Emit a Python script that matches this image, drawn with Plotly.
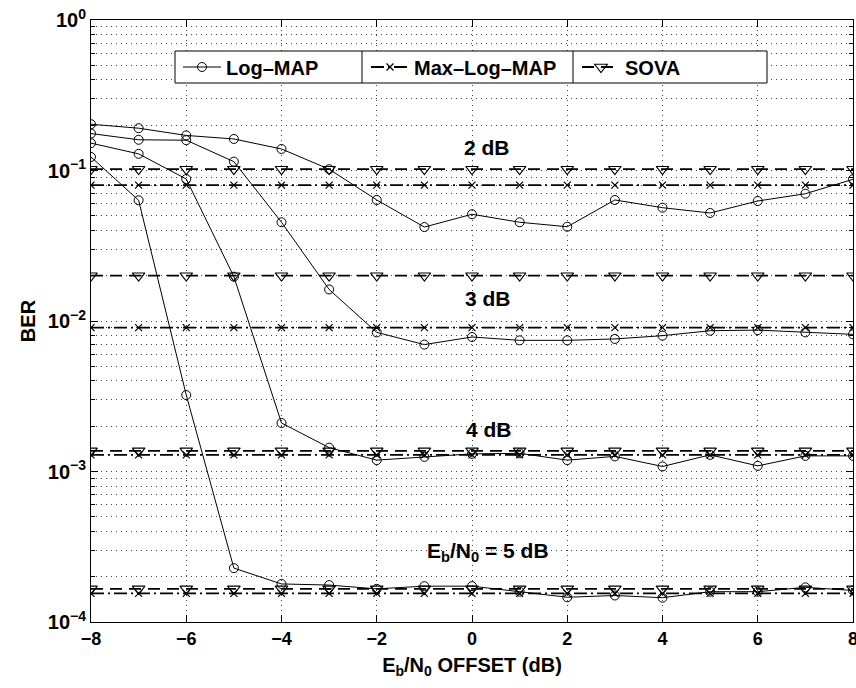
import math
import plotly.graph_objects as go

# ---------------- data ----------------
offset_db = [-8, -7, -6, -5, -4, -3, -2, -1, 0, 1, 2, 3, 4, 5, 6, 7, 8]

logmap_2db = [0.203, 0.191, 0.171, 0.162, 0.139, 0.102, 0.0637, 0.0421, 0.0512, 0.0453,
              0.0423, 0.0637, 0.0566, 0.0522, 0.0627, 0.0701, 0.0874]
logmap_3db = [0.176, 0.160, 0.159, 0.1145, 0.0453, 0.0162, 0.0084, 0.00697, 0.00783, 0.00744,
              0.00744, 0.00760, 0.00799, 0.00862, 0.0087, 0.0084, 0.00815]
logmap_4db = [0.152, 0.129, 0.0878, 0.0197, 0.0021, 0.00144, 0.00119, 0.00125, 0.00131, 0.00132,
              0.00119, 0.00126, 0.00108, 0.00129, 0.00109, 0.00127, 0.00127]
logmap_5db = [0.123, 0.0634, 0.00322, 2.28e-4, 1.79e-4, 1.76e-4, 1.66e-4, 1.73e-4, 1.73e-4, 1.59e-4,
              1.46e-4, 1.50e-4, 1.45e-4, 1.59e-4, 1.59e-4, 1.70e-4, 1.62e-4]

maxlog_2db = [0.080, 0.080, 0.080, 0.080, 0.080, 0.080, 0.080, 0.080, 0.080, 0.080,
              0.080, 0.080, 0.080, 0.080, 0.080, 0.080, 0.080]
maxlog_3db = [0.00903, 0.00903, 0.00903, 0.00903, 0.00903, 0.00903, 0.00903, 0.00903, 0.00903,
              0.00903, 0.00903, 0.00903, 0.00903, 0.00903, 0.00903, 0.00903, 0.00903]
maxlog_4db = [0.00129, 0.00129, 0.00129, 0.00129, 0.00129, 0.00129, 0.00129, 0.00129, 0.00129,
              0.00129, 0.00129, 0.00129, 0.00129, 0.00129, 0.00129, 0.00129, 0.00129]
maxlog_5db = [1.55e-4, 1.55e-4, 1.55e-4, 1.55e-4, 1.55e-4, 1.55e-4, 1.55e-4, 1.55e-4, 1.55e-4,
              1.55e-4, 1.55e-4, 1.55e-4, 1.55e-4, 1.55e-4, 1.55e-4, 1.55e-4, 1.55e-4]

sova_2db = [0.102, 0.102, 0.102, 0.102, 0.102, 0.102, 0.102, 0.102, 0.102, 0.102,
            0.102, 0.102, 0.102, 0.102, 0.102, 0.102, 0.102]
sova_3db = [0.020, 0.020, 0.020, 0.020, 0.020, 0.020, 0.020, 0.020, 0.020, 0.020,
            0.020, 0.020, 0.020, 0.020, 0.020, 0.020, 0.020]
sova_4db = [0.00137, 0.00137, 0.00137, 0.00137, 0.00137, 0.00137, 0.00137, 0.00137, 0.00137,
            0.00137, 0.00137, 0.00137, 0.00137, 0.00137, 0.00137, 0.00137, 0.00137]
sova_5db = [1.66e-4, 1.66e-4, 1.66e-4, 1.66e-4, 1.66e-4, 1.66e-4, 1.66e-4, 1.66e-4, 1.66e-4,
            1.66e-4, 1.66e-4, 1.66e-4, 1.66e-4, 1.66e-4, 1.66e-4, 1.66e-4, 1.66e-4]

x_ticks = [-8, -6, -4, -2, 0, 2, 4, 6, 8]
y_ticks = [1e-4, 1e-3, 1e-2, 1e-1, 1]
y_ticktext = ["<b>10<sup>\u22124</sup></b>", "<b>10<sup>\u22123</sup></b>", "<b>10<sup>\u22122</sup></b>",
              "<b>10<sup>\u22121</sup></b>", "<b>10<sup>0</sup></b>"]

level_labels = ["2 dB", "3 dB", "4 dB", "E<sub>b</sub>/N<sub>0</sub> = 5 dB"]
level_label_x = [-0.21, -0.19, -0.17, -0.99]
level_label_y = [0.143, 0.0142, 0.00189, 2.92e-4]

# ---------------- figure ----------------
FONT = "Liberation Sans, Arial, sans-serif"
fig = go.Figure()

def add(y, name, legend, show, line, marker):
    fig.add_trace(go.Scatter(
        x=offset_db, y=y, mode="lines+markers", name=f"<b>{name}</b>",
        legend=legend, showlegend=show, line=line, marker=marker))

sova_line = dict(color="black", width=1.8, dash="12px,7px")
sova_marker = dict(symbol="triangle-down-open", size=11, color="black", line=dict(width=1.1))
maxlog_line = dict(color="black", width=1.8, dash="13px,4px,2px,4px")
maxlog_marker = dict(symbol="x-thin-open", size=7, color="black", line=dict(width=1.2))
logmap_line = dict(color="black", width=1)
logmap_marker = dict(symbol="circle-open", size=9, color="black", line=dict(width=1))

for i, ys in enumerate([sova_2db, sova_3db, sova_4db, sova_5db]):
    add(ys, "SOVA", "legend3", i == 0, sova_line, sova_marker)
for i, ys in enumerate([maxlog_2db, maxlog_3db, maxlog_4db, maxlog_5db]):
    add(ys, "Max\u2013Log\u2013MAP", "legend2", i == 0, maxlog_line, maxlog_marker)
for i, ys in enumerate([logmap_2db, logmap_3db, logmap_4db, logmap_5db]):
    add(ys, "Log\u2013MAP", "legend", i == 0, logmap_line, logmap_marker)

# plot area in pixels: x 91..853, y 20..622
L, R, T, B = 91, 853, 20, 622
def px(p):
    return (p - L) / (R - L)
def py(q):
    return (B - q) / (B - T)

leg_font = dict(family=FONT, size=20, color="black")
leg_common = dict(bgcolor="rgba(0,0,0,0)", borderwidth=0, font=leg_font,
                  yanchor="middle", xanchor="left", itemwidth=38, orientation="h")
box_top, box_bot = 51, 83
ymid = py((box_top + box_bot) / 2)

fig.add_shape(type="rect", xref="paper", yref="paper", x0=px(175), x1=px(767),
              y0=py(box_bot), y1=py(box_top), line=dict(color="black", width=1),
              fillcolor="white", layer="above")
for d in [362, 573]:
    fig.add_shape(type="line", xref="paper", yref="paper", x0=px(d), x1=px(d),
                  y0=py(box_bot), y1=py(box_top), line=dict(color="black", width=1),
                  layer="above")

for txt, lx, ly in zip(level_labels, level_label_x, level_label_y):
    fig.add_annotation(x=lx, y=math.log10(ly), xref="x", yref="y", text=f"<b>{txt}</b>",
                       showarrow=False, xanchor="left", yanchor="middle",
                       font=dict(family=FONT, size=21, color="black"))

grid_common = dict(gridcolor="#444", gridwidth=1, griddash="1px,4px")

fig.update_layout(
    width=856, height=688,
    margin=dict(l=L, r=856 - R, t=T, b=688 - B),
    paper_bgcolor="white", plot_bgcolor="white",
    font=dict(family=FONT, size=18, color="black"),
    legend=dict(x=px(178), y=ymid, **leg_common),
    legend2=dict(x=px(366), y=ymid, **leg_common),
    legend3=dict(x=px(577), y=ymid, **leg_common),
    xaxis=dict(
        range=[-8, 8], tickvals=x_ticks,
        ticktext=["<b>" + str(v).replace("-", "\u2212") + "</b>" for v in x_ticks],
        ticks="inside", ticklen=7, tickcolor="black", showline=True, linecolor="black",
        linewidth=1, mirror="ticks", zeroline=False, showgrid=True, **grid_common,
        ticklabeloverflow="allow", automargin=False,
        tickfont=dict(family=FONT, size=18),
        title=dict(text="<b>E<sub>b</sub>/N<sub>0</sub> OFFSET (dB)</b>", standoff=10,
                   font=dict(family=FONT, size=20)),
    ),
    yaxis=dict(
        type="log", range=[-4, 0], tickvals=y_ticks, ticktext=y_ticktext,
        ticks="inside", ticklen=7, tickcolor="black", showline=True, linecolor="black",
        linewidth=1, mirror="ticks", zeroline=False, showgrid=True, **grid_common,
        minor=dict(ticks="inside", ticklen=4, tickcolor="black", showgrid=True,
                   gridcolor="#444", griddash="1px,4px", dtick="D1"),
        automargin=False,
        tickfont=dict(family=FONT, size=20),
        title=dict(text="<b>BER</b>", standoff=6, font=dict(family=FONT, size=20)),
    ),
)

fig.write_html("out.html")
